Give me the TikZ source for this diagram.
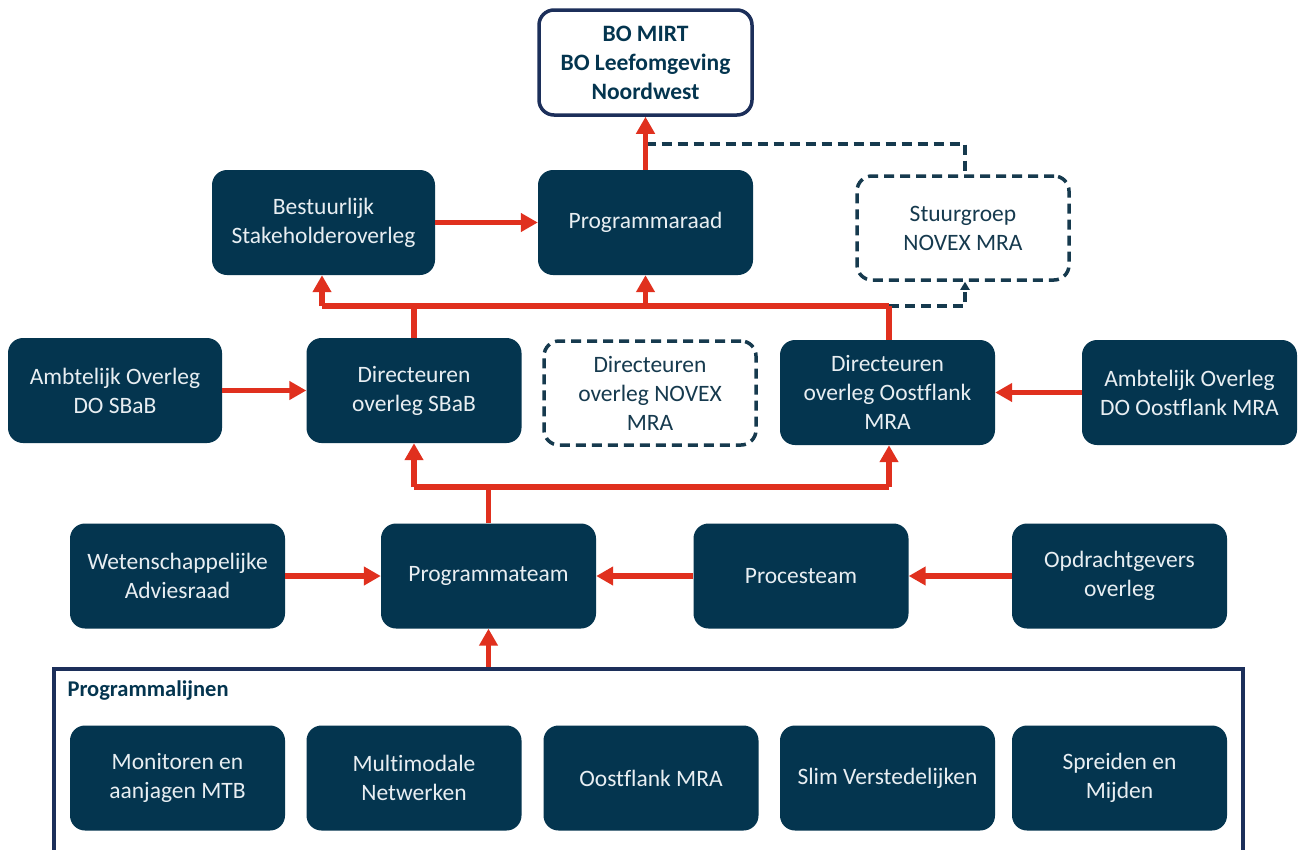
\documentclass[tikz,border=0pt]{standalone}
\usepackage{fontspec}
\setmainfont{Carlito}[Ligatures=NoCommon]
\usetikzlibrary{arrows.meta}
\definecolor{navy}{HTML}{04354F}
\definecolor{frameblue}{HTML}{1C2F5A}
\definecolor{dashnavy}{HTML}{163A4E}
\definecolor{redc}{HTML}{E0301E}
\definecolor{lighttext}{HTML}{E8EEF2}
\tikzset{
  box/.style={rounded corners=15pt, fill=navy, text=lighttext, minimum width=215pt, minimum height=105pt, inner sep=0pt, align=center, font=\fontsize{23.5}{29}\selectfont},
  dbox/.style={rounded corners=15pt, draw=dashnavy, line width=3.5pt, dash pattern=on 10pt off 6pt, text=dashnavy, minimum width=212pt, minimum height=104pt, inner sep=0pt, align=center, font=\fontsize{23.5}{29}\selectfont},
  topbox/.style={rounded corners=15pt, draw=frameblue, line width=3.5pt, fill=white, text=navy, minimum width=213pt, minimum height=105pt, inner sep=0pt, align=center, font=\bfseries\fontsize{23.5}{29}\selectfont},
  redline/.style={draw=redc, line width=5.5pt},
  redarrow/.style={draw=redc, line width=5.5pt, -{Triangle[length=17pt,width=18pt]}},
  dashline/.style={draw=dashnavy, line width=3.5pt, dash pattern=on 10pt off 6pt},
  dasharrow/.style={dashline, -{Triangle[length=8pt,width=9pt]}},
}
\begin{document}
\begin{tikzpicture}[x=1pt,y=-1pt]
\clip (0,0) rectangle (1306,849);
\fill[white] (0,0) rectangle (1306,849);
% frame
\draw[frameblue, line width=4.5pt] (54,870) -- (54,669) -- (1243,669) -- (1243,870);
\node[anchor=west, text=navy, font=\bfseries\fontsize{22.5}{27}\selectfont] (plab) at (64,691) {Programmalijnen};
% top
\node[topbox] (bo) at (645.5,62.5) {BO MIRT\\BO Leefomgeving\\Noordwest};
% row 1
\node[box, minimum width=223pt] (bso) at (323.5,222.5) {Bestuurlijk\\Stakeholderoverleg};
\node[box] (praad) at (645.5,222.5) {Programmaraad};
\node[dbox] (stuur) at (963,228) {Stuurgroep\\NOVEX MRA};
% row 2
\node[box, minimum width=214pt] (aosbab) at (115,390.5) {Ambtelijk Overleg\\DO SBaB};
\node[box] (dsbab) at (414,390.5) {Directeuren\\overleg SBaB};
\node[dbox] (dnovex) at (650,393) {Directeuren\\overleg NOVEX\\MRA};
\node[box] (doost) at (887.5,392.5) {Directeuren\\overleg Oostflank\\MRA};
\node[box] (aooost) at (1189.5,392.5) {Ambtelijk Overleg\\DO Oostflank MRA};
% row 3
\node[box] (wet) at (177.5,576) {Wetenschappelijke\\Adviesraad};
\node[box] (pteam) at (488.5,576) {Programmateam};
\node[box] (proces) at (801,576) {Procesteam};
\node[box] (opdr) at (1119.5,576) {Opdrachtgevers\\overleg};
% row 4
\node[box] (l1) at (177.5,778) {Monitoren en\\aanjagen MTB};
\node[box] (l2) at (414,778) {Multimodale\\Netwerken};
\node[box] (l3) at (651,778) {Oostflank MRA};
\node[box] (l4) at (887.5,778) {Slim Verstedelijken};
\node[box] (l5) at (1119.5,778) {Spreiden en\\Mijden};
% coordinates
\coordinate (ftop) at (488.5,667);
\coordinate (t1) at (645.5,144);
\coordinate (t2) at (965,144);
\coordinate (b1l) at (322,306);
\coordinate (b1s) at (414,306);
\coordinate (b1r) at (889,306);
\coordinate (b1d) at (965,306);
\coordinate (b2m) at (488.5,487);
\coordinate (b2l) at (414,487);
\coordinate (b2r) at (889,487);
% dashed
\draw[dashline] (t1) -- (t2) -- (stuur.north -| t2);
\draw[dasharrow] (b1r) -- (b1d) -- (stuur.south -| b1d);
% red connectors
\draw[redarrow] (praad.north) -- (bo.south);
\draw[redarrow] (bso.east) -- (praad.west);
\draw[redline] (dsbab.north) -- (b1s);
\draw[redline] (doost.north -| b1r) -- (b1r);
\draw[redline] (b1l) -- (b1r);
\draw[redarrow] (b1l) -- (bso.south -| b1l);
\draw[redarrow] (b1l -| praad.south) -- (praad.south);
\draw[redarrow] (aosbab.east) -- (dsbab.west);
\draw[redarrow] (aooost.west) -- (doost.east);
\draw[redline] (pteam.north) -- (b2m);
\draw[redline] (b2l) -- (b2r);
\draw[redarrow] (b2l) -- (dsbab.south -| b2l);
\draw[redarrow] (b2r) -- (doost.south -| b2r);
\draw[redarrow] (wet.east) -- (pteam.west);
\draw[redarrow] (proces.west) -- (pteam.east);
\draw[redarrow] (opdr.west) -- (proces.east);
\draw[redarrow] (ftop) -- (pteam.south);
\end{tikzpicture}
\end{document}
